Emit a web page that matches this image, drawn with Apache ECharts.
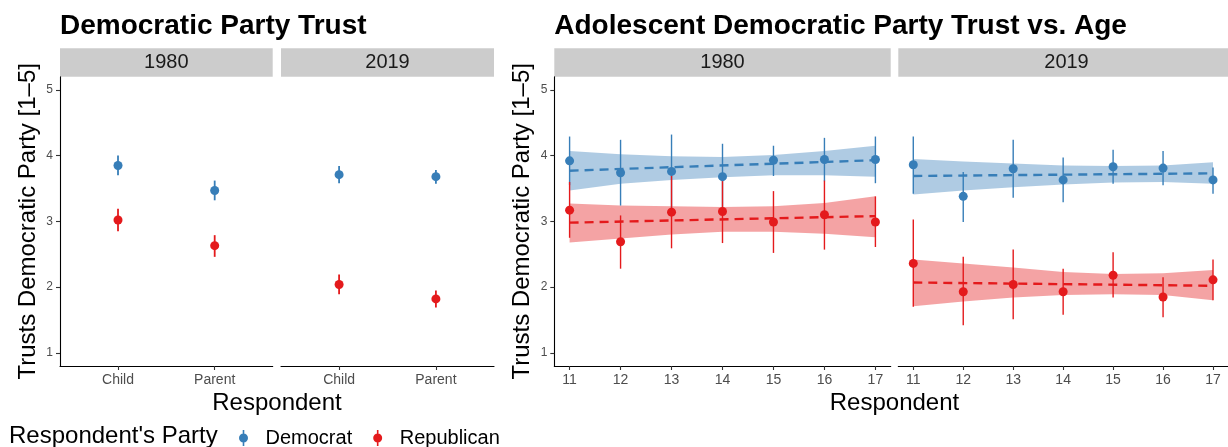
<!DOCTYPE html>
<html>
<head>
<meta charset="utf-8">
<script src="https://cdn.jsdelivr.net/npm/echarts@6/dist/echarts.min.js"></script>
<style>
html,body{margin:0;padding:0;background:#fff;}
#c{width:1228px;height:447px;}
</style>
</head>
<body>
<div id="c"></div>
<script>
// ---------- DATA ----------
var respondents = ['Child', 'Parent'];
var respondentPos = [1, 2];
var yTicks = [1, 2, 3, 4, 5];
var ages = [11, 12, 13, 14, 15, 16, 17];
var trendAges = [11, 17];

// Left chart: Democratic Party Trust by respondent
var demParent1980 = [3.85, 3.47];
var demParent1980Lo = [3.70, 3.32];
var demParent1980Hi = [4.00, 3.62];
var repParent1980 = [3.02, 2.63];
var repParent1980Lo = [2.85, 2.46];
var repParent1980Hi = [3.19, 2.79];
var demParent2019 = [3.71, 3.68];
var demParent2019Lo = [3.58, 3.57];
var demParent2019Hi = [3.84, 3.78];
var repParent2019 = [2.04, 1.82];
var repParent2019Lo = [1.89, 1.69];
var repParent2019Hi = [2.19, 1.95];

// Right chart: adolescent trust vs age
var dem1980 = [3.92, 3.74, 3.76, 3.68, 3.93, 3.94, 3.94];
var dem1980Lo = [3.55, 3.24, 3.20, 3.18, 3.69, 3.61, 3.58];
var dem1980Hi = [4.29, 4.24, 4.32, 4.18, 4.15, 4.27, 4.29];
var rep1980 = [3.17, 2.69, 3.14, 3.15, 2.99, 3.10, 2.99];
var rep1980Lo = [2.75, 2.28, 2.59, 2.67, 2.52, 2.57, 2.61];
var rep1980Hi = [3.60, 3.09, 3.70, 3.65, 3.46, 3.62, 3.38];
var dem2019 = [3.86, 3.38, 3.80, 3.63, 3.83, 3.81, 3.63];
var dem2019Lo = [3.42, 2.99, 3.36, 3.29, 3.57, 3.55, 3.42];
var dem2019Hi = [4.29, 3.75, 4.24, 3.97, 4.09, 4.07, 3.82];
var rep2019 = [2.36, 1.93, 2.04, 1.93, 2.18, 1.85, 2.11];
var rep2019Lo = [1.70, 1.42, 1.51, 1.58, 1.84, 1.54, 1.80];
var rep2019Hi = [3.03, 2.46, 2.57, 2.28, 2.53, 2.15, 2.42];

// smoothing ribbons (confidence bands) and fitted lines
var dem1980BandLo = [3.47, 3.57, 3.63, 3.67, 3.70, 3.70, 3.68];
var dem1980BandHi = [4.07, 4.02, 3.99, 3.98, 4.01, 4.07, 4.15];
var rep1980BandLo = [2.68, 2.74, 2.80, 2.84, 2.84, 2.81, 2.76];
var rep1980BandHi = [3.27, 3.24, 3.23, 3.22, 3.23, 3.28, 3.38];
var dem2019BandLo = [3.41, 3.47, 3.52, 3.56, 3.59, 3.60, 3.57];
var dem2019BandHi = [3.95, 3.91, 3.88, 3.85, 3.84, 3.85, 3.90];
var rep2019BandLo = [1.71, 1.78, 1.84, 1.88, 1.89, 1.88, 1.80];
var rep2019BandHi = [2.42, 2.36, 2.30, 2.23, 2.20, 2.21, 2.26];
var dem1980Trend = [3.77, 3.93];
var rep1980Trend = [2.98, 3.08];
var dem2019Trend = [3.69, 3.73];
var rep2019Trend = [2.07, 2.02];

var panelYears = ['1980', '2019'];

// ---------- STYLE / LAYOUT ----------
var BLUE = '#377EB8', RED = '#E41A1C';
var FONT = 'Liberation Sans, Arial, Helvetica, sans-serif';
var TOP = 76.7, H = 289.3;
var grids = [
  {left: 60, top: TOP, width: 212.7, height: H},
  {left: 281, top: TOP, width: 213, height: H},
  {left: 554.3, top: TOP, width: 336.4, height: H},
  {left: 898.3, top: TOP, width: 336.4, height: H}
];

var chart = echarts.init(document.getElementById('c'), null, {renderer: 'canvas'});

function xAxisFor(gi, min, max, values, names) {
  return {
    type: 'value', gridIndex: gi, min: min, max: max,
    splitLine: {show: false},
    axisLine: {show: true, onZero: false, lineStyle: {color: '#000', width: 1.1}},
    axisTick: {show: true, length: 4, customValues: values, lineStyle: {color: '#333', width: 1.1}},
    axisLabel: {
      show: true, customValues: values, margin: 7,
      fontFamily: FONT, fontSize: 14, color: '#4D4D4D',
      formatter: function (v) {
        if (names) { var i = values.indexOf(v); return i >= 0 ? names[i] : ''; }
        return String(v);
      }
    }
  };
}
function yAxisFor(gi, visible) {
  return {
    type: 'value', gridIndex: gi, min: 0.8, max: 5.2,
    splitLine: {show: false},
    axisLine: {show: visible, onZero: false, lineStyle: {color: '#000', width: 1.1}},
    axisTick: {show: visible, length: 4, customValues: yTicks, lineStyle: {color: '#333', width: 1.1}},
    axisLabel: {show: visible, customValues: yTicks, margin: 7, fontFamily: FONT, fontSize: 12, color: '#4D4D4D'},
    name: visible ? 'Trusts Democratic Party [1\u20135]' : '',
    nameLocation: 'middle', nameGap: 20,
    nameTextStyle: {fontFamily: FONT, fontSize: 24, color: '#000'}
  };
}

function errorBars(gi, xs, lo, hi, color, w, name) {
  return {
    type: 'custom', name: name, xAxisIndex: gi, yAxisIndex: gi, z: 3,
    itemStyle: {color: color},
    data: xs.map(function (x, i) { return [x, lo[i], hi[i]]; }),
    encode: {x: 0, y: [1, 2]},
    renderItem: function (params, api) {
      var p1 = api.coord([api.value(0), api.value(1)]);
      var p2 = api.coord([api.value(0), api.value(2)]);
      return {type: 'line', shape: {x1: p1[0], y1: p1[1], x2: p2[0], y2: p2[1]},
              style: {stroke: color, lineWidth: w}};
    }
  };
}
function points(gi, xs, ys, color, name) {
  return {
    type: 'scatter', name: name, xAxisIndex: gi, yAxisIndex: gi, z: 4,
    symbol: 'circle', symbolSize: 9,
    itemStyle: {color: color, opacity: 1},
    data: xs.map(function (x, i) { return [x, ys[i]]; })
  };
}
function ribbon(gi, xs, lo, hi, color, name) {
  return {
    type: 'custom', name: name, xAxisIndex: gi, yAxisIndex: gi, z: 1,
    itemStyle: {color: color},
    data: xs.map(function (x, i) { return [x, lo[i], hi[i]]; }),
    encode: {x: 0, y: [1, 2]},
    renderItem: function (params, api) {
      if (params.dataIndex !== 0) return null;
      var pts = [];
      for (var i = 0; i < xs.length; i++) pts.push(api.coord([xs[i], hi[i]]));
      for (var j = xs.length - 1; j >= 0; j--) pts.push(api.coord([xs[j], lo[j]]));
      return {type: 'polygon', shape: {points: pts}, style: {fill: color, opacity: 0.4}};
    }
  };
}
function trend(gi, xs, ys, color, name) {
  return {
    type: 'line', name: name, xAxisIndex: gi, yAxisIndex: gi, z: 5,
    symbol: 'none', showSymbol: false,
    itemStyle: {color: color},
    lineStyle: {color: color, width: 2.4, type: [9, 6]},
    data: xs.map(function (x, i) { return [x, ys[i]]; })
  };
}

var series = [
  // left 1980
  points(0, respondentPos, demParent1980, BLUE, 'Democrat'),
  points(0, respondentPos, repParent1980, RED, 'Republican'),
  errorBars(0, respondentPos, demParent1980Lo, demParent1980Hi, BLUE, 1.8, 'Democrat range'),
  errorBars(0, respondentPos, repParent1980Lo, repParent1980Hi, RED, 1.8, 'Republican range'),
  // left 2019
  points(1, respondentPos, demParent2019, BLUE, 'Democrat'),
  points(1, respondentPos, repParent2019, RED, 'Republican'),
  errorBars(1, respondentPos, demParent2019Lo, demParent2019Hi, BLUE, 1.8, 'Democrat range'),
  errorBars(1, respondentPos, repParent2019Lo, repParent2019Hi, RED, 1.8, 'Republican range'),
  // right 1980
  ribbon(2, ages, dem1980BandLo, dem1980BandHi, BLUE, 'Democrat band'),
  ribbon(2, ages, rep1980BandLo, rep1980BandHi, RED, 'Republican band'),
  errorBars(2, ages, dem1980Lo, dem1980Hi, BLUE, 1.4, 'Democrat range'),
  errorBars(2, ages, rep1980Lo, rep1980Hi, RED, 1.4, 'Republican range'),
  points(2, ages, dem1980, BLUE, 'Democrat'),
  points(2, ages, rep1980, RED, 'Republican'),
  trend(2, trendAges, dem1980Trend, BLUE, 'Democrat fit'),
  trend(2, trendAges, rep1980Trend, RED, 'Republican fit'),
  // right 2019
  ribbon(3, ages, dem2019BandLo, dem2019BandHi, BLUE, 'Democrat band'),
  ribbon(3, ages, rep2019BandLo, rep2019BandHi, RED, 'Republican band'),
  errorBars(3, ages, dem2019Lo, dem2019Hi, BLUE, 1.4, 'Democrat range'),
  errorBars(3, ages, rep2019Lo, rep2019Hi, RED, 1.4, 'Republican range'),
  points(3, ages, dem2019, BLUE, 'Democrat'),
  points(3, ages, rep2019, RED, 'Republican'),
  trend(3, trendAges, dem2019Trend, BLUE, 'Democrat fit'),
  trend(3, trendAges, rep2019Trend, RED, 'Republican fit')
];

// strips
var graphics = [];
grids.forEach(function (g, i) {
  graphics.push({
    type: 'rect', silent: true,
    shape: {x: g.left, y: 48.3, width: g.width, height: 28.4},
    style: {fill: '#CCCCCC'}
  });
  graphics.push({
    type: 'text', silent: true,
    x: g.left + g.width / 2, y: 48.3 + 14.4,
    style: {text: panelYears[i % 2], fontFamily: FONT, fontSize: 20, fill: '#1A1A1A',
            align: 'center', verticalAlign: 'middle'}
  });
});
// x-axis titles
graphics.push({type: 'text', silent: true, x: (60 + 494) / 2, y: 403,
  style: {text: 'Respondent', fontFamily: FONT, fontSize: 24, fill: '#000', align: 'center', verticalAlign: 'middle'}});
graphics.push({type: 'text', silent: true, x: (554.3 + 1234.7) / 2, y: 403,
  style: {text: 'Respondent', fontFamily: FONT, fontSize: 24, fill: '#000', align: 'center', verticalAlign: 'middle'}});
// chart titles
graphics.push({type: 'text', silent: true, x: 60, y: 26,
  style: {text: 'Democratic Party Trust', fontFamily: FONT, fontWeight: 'bold', fontSize: 28, fill: '#000', align: 'left', verticalAlign: 'middle'}});
graphics.push({type: 'text', silent: true, x: 554.3, y: 26,
  style: {text: 'Adolescent Democratic Party Trust vs. Age', fontFamily: FONT, fontWeight: 'bold', fontSize: 28, fill: '#000', align: 'left', verticalAlign: 'middle'}});
// legend title
graphics.push({type: 'text', silent: true, x: 9, y: 436,
  style: {text: "Respondent's Party", fontFamily: FONT, fontSize: 24, fill: '#000', align: 'left', verticalAlign: 'middle'}});

var option = {
  animation: false,
  backgroundColor: '#fff',
  grid: grids.map(function (g) { return {left: g.left, top: g.top, width: g.width, height: g.height, containLabel: false}; }),
  xAxis: [
    xAxisFor(0, 0.4, 2.6, respondentPos, respondents),
    xAxisFor(1, 0.4, 2.6, respondentPos, respondents),
    xAxisFor(2, 10.7, 17.3, ages, null),
    xAxisFor(3, 10.7, 17.3, ages, null)
  ],
  yAxis: [yAxisFor(0, true), yAxisFor(1, false), yAxisFor(2, true), yAxisFor(3, false)],
  legend: {
    show: true, data: ['Democrat', 'Republican'],
    left: 234, top: 423, orient: 'horizontal',
    itemWidth: 34, itemHeight: 16, itemGap: 21,
    icon: 'path://M-0.8,-8H0.8V8H-0.8Z M-4.5,0A4.5,4.5 0 1,1 4.5,0A4.5,4.5 0 1,1 -4.5,0Z',
    textStyle: {fontFamily: FONT, fontSize: 20, color: '#000'},
    selectedMode: false
  },
  graphic: graphics,
  series: series
};
chart.setOption(option);
</script>
</body>
</html>
